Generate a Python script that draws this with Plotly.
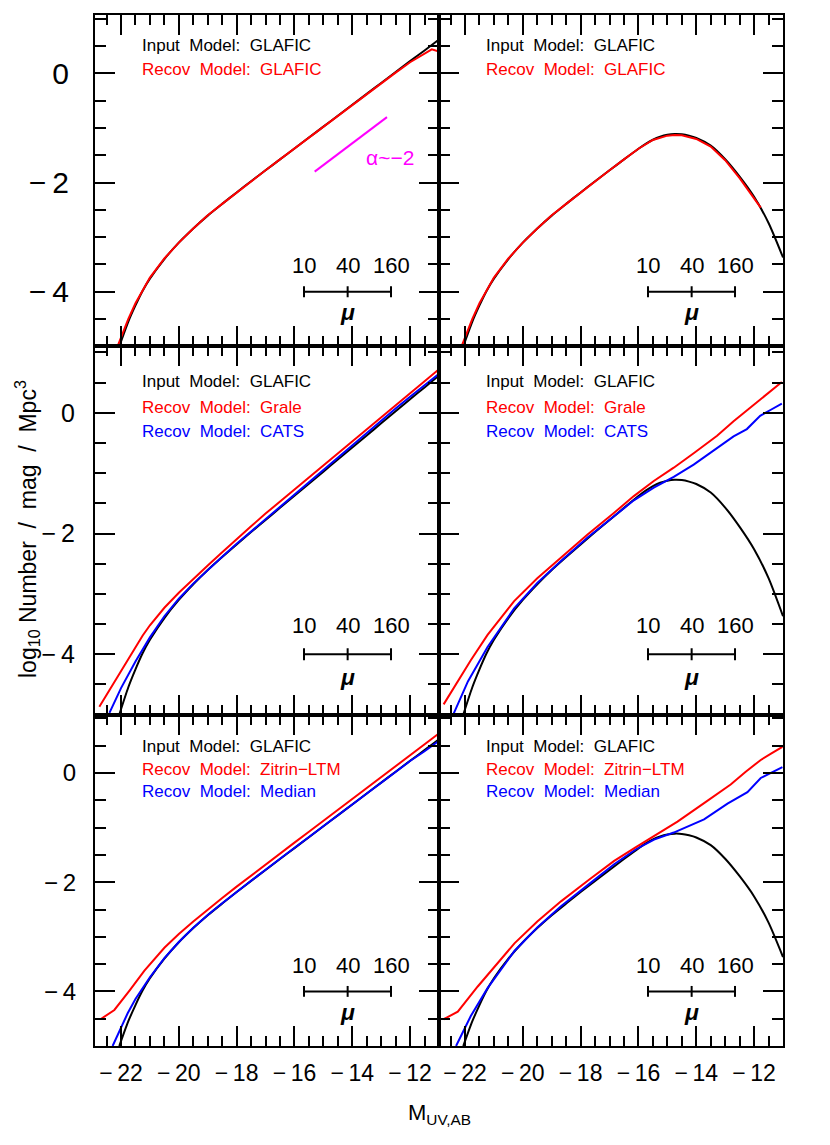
import numpy as np
import plotly.graph_objects as go

# ---------------- data ----------------
# input model (GLAFIC) without turnover (left column)
M_in_left = [-22.06, -21.75, -21.5, -21.25, -21.0, -20.5, -20.0, -19.5, -19.0, -18.5, -18.0, -17.5,
             -17.0, -16.5, -16.0, -15.5, -15.0, -14.5, -14.0, -13.5, -13.0, -12.5, -12.0, -11.5, -11.0]
phi_in_left = [-5.0, -4.55, -4.25, -3.98, -3.76, -3.40, -3.10, -2.84, -2.605, -2.39, -2.18, -1.975,
               -1.775, -1.575, -1.375, -1.175, -0.975, -0.775, -0.575, -0.375, -0.175, 0.025, 0.225,
               0.42, 0.62]

# input model with turnover (right column)
M_in_right = [-22.06, -21.75, -21.5, -21.25, -21.0, -20.5, -20.0, -19.5, -19.0, -18.5, -18.0, -17.5,
              -17.0, -16.5, -16.0, -15.75, -15.5, -15.25, -15.0, -14.75, -14.5, -14.25, -14.0, -13.5,
              -13.0, -12.5, -12.0, -11.5, -11.0]
phi_in_right = [-5.0, -4.55, -4.25, -3.98, -3.76, -3.40, -3.10, -2.84, -2.605, -2.39, -2.18, -1.975,
                -1.775, -1.575, -1.38, -1.29, -1.215, -1.16, -1.125, -1.11, -1.115, -1.14, -1.18,
                -1.32, -1.57, -1.89, -2.26, -2.74, -3.37]

# recovered GLAFIC (top row)
M_glafic_left = [-22.12, -21.75, -21.5, -21.0, -20.5, -20.0, -19.5, -19.0, -18.5, -18.0, -17.5, -17.0,
                 -16.5, -16.0, -15.5, -15.0, -14.5, -14.0, -13.5, -13.0, -12.5, -12.0, -11.5, -11.25, -11.0]
phi_glafic_left = [-5.0, -4.50, -4.21, -3.74, -3.39, -3.10, -2.84, -2.60, -2.39, -2.18, -1.975, -1.775,
                   -1.575, -1.375, -1.175, -0.98, -0.775, -0.58, -0.375, -0.18, 0.015, 0.205, 0.37,
                   0.44, 0.40]
M_glafic_right = [-22.12, -21.75, -21.5, -21.0, -20.5, -20.0, -19.5, -19.0, -18.5, -18.0, -17.5, -17.0,
                  -16.5, -16.0, -15.5, -15.0, -14.75, -14.5, -14.0, -13.5, -13.0, -12.5, -12.0, -11.77]
phi_glafic_right = [-5.0, -4.50, -4.21, -3.74, -3.39, -3.10, -2.84, -2.60, -2.39, -2.18, -1.975, -1.775,
                    -1.575, -1.38, -1.22, -1.14, -1.13, -1.135, -1.20, -1.34, -1.59, -1.92, -2.29, -2.46]

# recovered Grale / CATS (middle row)
M_grale_left = [-22.75, -22.5, -22.25, -22.0, -21.75, -21.5, -21.25, -21.0, -20.5, -20.0, -19.5, -19.0,
                -18.5, -18.0, -17.5, -17.0, -16.5, -16.0, -15.5, -15.0, -14.5, -14.0, -13.5, -13.0,
                -12.5, -12.0, -11.5, -11.0]
phi_grale_left = [-4.87, -4.67, -4.47, -4.28, -4.08, -3.88, -3.69, -3.52, -3.23, -2.98, -2.75, -2.53,
                  -2.31, -2.09, -1.88, -1.67, -1.47, -1.27, -1.07, -0.87, -0.67, -0.47, -0.27, -0.07,
                  0.13, 0.33, 0.52, 0.72]
M_cats_left = [-22.4, -22.0, -21.5, -21.0, -20.5, -20.0, -19.5, -19.0, -18.5, -18.0, -17.5, -17.0,
               -16.5, -16.0, -15.5, -15.0, -14.5, -14.0, -13.5, -13.0, -12.5, -12.0, -11.5, -11.0]
phi_cats_left = [-4.97, -4.56, -4.12, -3.72, -3.37, -3.08, -2.83, -2.60, -2.385, -2.17, -1.965, -1.76,
                 -1.56, -1.355, -1.15, -0.945, -0.74, -0.54, -0.335, -0.13, 0.07, 0.265, 0.455, 0.645]
M_grale_right = [-22.74, -22.26, -21.80, -21.22, -20.30, -19.50, -18.69, -17.77, -16.85, -16.16, -15.47,
                 -14.78, -14.09, -13.28, -12.71, -12.25, -11.79, -11.4, -11.04]
phi_grale_right = [-4.83, -4.46, -4.10, -3.68, -3.12, -2.74, -2.40, -2.02, -1.66, -1.38, -1.13,
                   -0.91, -0.67, -0.38, -0.14, 0.04, 0.22, 0.37, 0.51]
M_cats_right = [-22.4, -21.9, -21.22, -20.30, -19.5, -18.69, -17.77, -16.85, -16.16, -15.47, -14.78,
                -14.09, -13.40, -12.71, -12.25, -11.79, -11.42, -11.04]
phi_cats_right = [-4.99, -4.45, -3.88, -3.24, -2.82, -2.46, -2.07, -1.71, -1.45, -1.24, -1.06,
                  -0.86, -0.63, -0.39, -0.27, -0.05, 0.05, 0.15]

# recovered Zitrin-LTM / Median (bottom row)
M_zitrin_left = [-22.71, -22.23, -21.7, -21.19, -20.5, -20.0, -19.5, -19.0, -18.5, -18.0, -17.5, -17.0,
                 -16.5, -16.0, -15.5, -15.0, -14.5, -14.0, -13.5, -13.0, -12.5, -12.0, -11.5, -11.04]
phi_zitrin_left = [-4.51, -4.34, -3.98, -3.62, -3.20, -2.95, -2.72, -2.50, -2.29, -2.08, -1.875, -1.675,
                   -1.475, -1.275, -1.075, -0.875, -0.675, -0.47, -0.27, -0.07, 0.13, 0.33, 0.52, 0.71]
M_median_left = [-22.29, -22.0, -21.77, -21.5, -21.0, -20.5, -20.0, -19.5, -19.0, -18.5, -18.0, -17.5,
                 -17.0, -16.5, -16.0, -15.5, -15.0, -14.5, -14.0, -13.5, -13.0, -12.5, -12.0, -11.5, -11.0]
phi_median_left = [-5.0, -4.66, -4.40, -4.14, -3.74, -3.39, -3.095, -2.835, -2.60, -2.385, -2.175, -1.97,
                   -1.77, -1.57, -1.37, -1.17, -0.97, -0.77, -0.57, -0.37, -0.17, 0.025, 0.22, 0.40, 0.59]
M_zitrin_right = [-22.74, -22.25, -21.56, -20.29, -19.5, -18.68, -17.7, -16.84, -16.1, -15.46, -14.65,
                  -13.73, -12.81, -12.3, -11.77, -11.4, -11.02]
phi_zitrin_right = [-4.51, -4.37, -3.91, -3.12, -2.72, -2.35, -1.95, -1.61, -1.36, -1.15, -0.89,
                    -0.55, -0.21, 0.02, 0.24, 0.36, 0.48]
M_median_right = [-22.31, -21.8, -21.22, -20.29, -19.5, -18.68, -17.7, -16.84, -16.1, -15.46, -14.78,
                  -13.73, -12.92, -12.23, -11.77, -11.42, -11.02]
phi_median_right = [-5.0, -4.45, -3.94, -3.26, -2.83, -2.44, -2.03, -1.67, -1.40, -1.22, -1.09,
                    -0.85, -0.56, -0.35, -0.09, 0.0, 0.11]

# magnification scale bar
mu_labels = ["10", "40", "160"]
mu_bar_M = [-15.67, -14.16, -12.66]
mu_bar_y = -4.0
mu_label_y = -3.52
mu_sym_y = -4.37

# faint-end slope guide
alpha_M = [-15.3, -12.8]
alpha_phi = [-1.8, -0.8]
alpha_label = "α~−2"
alpha_label_pos = (-12.70, -1.54)

# panel legends
SP = "\u00a0 "
panel_texts = [
    [("Input" + SP + "Model:" + SP + "GLAFIC", "black"), ("Recov" + SP + "Model:" + SP + "GLAFIC", "red")],
    [("Input" + SP + "Model:" + SP + "GLAFIC", "black"), ("Recov" + SP + "Model:" + SP + "GLAFIC", "red")],
    [("Input" + SP + "Model:" + SP + "GLAFIC", "black"), ("Recov" + SP + "Model:" + SP + "Grale", "red"),
     ("Recov" + SP + "Model:" + SP + "CATS", "blue")],
    [("Input" + SP + "Model:" + SP + "GLAFIC", "black"), ("Recov" + SP + "Model:" + SP + "Grale", "red"),
     ("Recov" + SP + "Model:" + SP + "CATS", "blue")],
    [("Input" + SP + "Model:" + SP + "GLAFIC", "black"), ("Recov" + SP + "Model:" + SP + "Zitrin−LTM", "red"),
     ("Recov" + SP + "Model:" + SP + "Median", "blue")],
    [("Input" + SP + "Model:" + SP + "GLAFIC", "black"), ("Recov" + SP + "Model:" + SP + "Zitrin−LTM", "red"),
     ("Recov" + SP + "Model:" + SP + "Median", "blue")],
]

x_tick_vals = [-22, -20, -18, -16, -14, -12]
x_tick_text = ["−\u200922", "−\u200920", "−\u200918", "−\u200916", "−\u200914", "−\u200912"]
y_tick_vals = [-4, -2, 0]
y_tick_text = ["−\u20094", "−\u20092", "0"]

# ---------------- layout geometry ----------------
W, H = 830, 1145
ML, MR, MT, MB = 87, 55, 5, 107
plot_h = H - MT - MB
row_px = [(5, 337), (337, 706), (706, H - MB)]
row_dom = [[(H - MB - b) / plot_h, (H - MB - t) / plot_h] for t, b in row_px]
col_dom = [[0.0, 0.5], [0.5, 1.0]]
y_ranges = [[-5.0, 1.07], [-5.0, 1.10], [-5.0, 1.07]]
x_range = [-22.9, -11.0]
ylab_size = [30, 25, 24]
ylab_standoff = [18, 13, 12]
text_y = [[0.9075, 0.8364], [0.9033, 0.834, 0.769], [0.905, 0.833, 0.768]]

FONT = "Liberation Sans, Arial, Helvetica, sans-serif"

curves = [
    [(M_in_left, phi_in_left, "black", True), (M_glafic_left, phi_glafic_left, "red", False)],
    [(M_in_right, phi_in_right, "black", True), (M_glafic_right, phi_glafic_right, "red", False)],
    [(M_in_left, phi_in_left, "black", True), (M_cats_left, phi_cats_left, "blue", False),
     (M_grale_left, phi_grale_left, "red", False)],
    [(M_in_right, phi_in_right, "black", True), (M_cats_right, phi_cats_right, "blue", False),
     (M_grale_right, phi_grale_right, "red", False)],
    [(M_in_left, phi_in_left, "black", True), (M_median_left, phi_median_left, "blue", False),
     (M_zitrin_left, phi_zitrin_left, "red", False)],
    [(M_in_right, phi_in_right, "black", True), (M_median_right, phi_median_right, "blue", False),
     (M_zitrin_right, phi_zitrin_right, "red", False)],
]

fig = go.Figure()
annotations = []
shapes = []

x_minor = list(np.arange(-23.0, -10.9, 0.5))
y_minor = list(np.arange(-5.0, 1.11, 0.5))

for p in range(6):
    r, c = divmod(p, 2)
    sid = "" if p == 0 else str(p + 1)
    xa, ya = "x" + sid, "y" + sid

    for xs, ys, col, smooth in curves[p]:
        fig.add_trace(go.Scatter(
            x=xs, y=ys, mode="lines", xaxis=xa, yaxis=ya,
            line=dict(color=col, width=2, shape="spline" if smooth else "linear",
                      smoothing=0.7 if smooth else None),
            hoverinfo="skip", showlegend=False))

    # scale bar
    fig.add_trace(go.Scatter(
        x=[mu_bar_M[0], mu_bar_M[-1]], y=[mu_bar_y, mu_bar_y], mode="lines",
        xaxis=xa, yaxis=ya, line=dict(color="black", width=2),
        hoverinfo="skip", showlegend=False))
    for mx in mu_bar_M:
        shapes.append(dict(type="line", xref=xa, yref=ya, x0=mx, x1=mx,
                           y0=mu_bar_y - 0.1, y1=mu_bar_y + 0.1,
                           line=dict(color="black", width=2)))
    for mx, lab in zip(mu_bar_M, mu_labels):
        annotations.append(dict(x=mx, y=mu_label_y, xref=xa, yref=ya, text=lab, showarrow=False,
                                font=dict(family=FONT, size=22, color="black"),
                                xanchor="center", yanchor="middle"))
    annotations.append(dict(x=mu_bar_M[1], y=mu_sym_y, xref=xa, yref=ya, text="<b><i>μ</i></b>",
                            showarrow=False, font=dict(family=FONT, size=23, color="black"),
                            xanchor="center", yanchor="middle"))

    # panel legend text
    for (txt, colr), ty in zip(panel_texts[p], text_y[r]):
        annotations.append(dict(x=0.132, y=ty, xref=xa + " domain", yref=ya + " domain",
                                text=txt, showarrow=False, xanchor="left", yanchor="middle",
                                font=dict(family=FONT, size=17, color=colr)))

    xaxis = dict(domain=col_dom[c], anchor=ya, range=x_range, showgrid=False, zeroline=False,
                 showline=True, linecolor="black", linewidth=2, mirror="ticks",
                 ticks="inside", ticklen=20, tickwidth=2, tickcolor="black",
                 tickmode="array", tickvals=x_tick_vals, ticktext=x_tick_text,
                 showticklabels=(r == 2), ticklabelstandoff=5,
                 tickfont=dict(family=FONT, size=23, color="black"),
                 minor=dict(tickmode="array", tickvals=x_minor, ticks="inside", ticklen=10,
                            tickwidth=2, tickcolor="black", showgrid=False))
    yaxis = dict(domain=row_dom[r], anchor=xa, range=y_ranges[r], showgrid=False, zeroline=False,
                 showline=True, linecolor="black", linewidth=2, mirror="ticks",
                 ticks="inside", ticklen=20, tickwidth=2, tickcolor="black",
                 tickmode="array", tickvals=y_tick_vals, ticktext=y_tick_text,
                 showticklabels=(c == 0), ticklabelstandoff=ylab_standoff[r],
                 tickfont=dict(family=FONT, size=ylab_size[r], color="black"),
                 minor=dict(tickmode="array", tickvals=y_minor, ticks="inside", ticklen=11,
                            tickwidth=2, tickcolor="black", showgrid=False))
    fig.layout["xaxis" + sid] = xaxis
    fig.layout["yaxis" + sid] = yaxis

# slope guide in the top-left panel
fig.add_trace(go.Scatter(x=alpha_M, y=alpha_phi, mode="lines", xaxis="x", yaxis="y",
                         line=dict(color="#ff00ff", width=2), hoverinfo="skip", showlegend=False))
annotations.append(dict(x=alpha_label_pos[0], y=alpha_label_pos[1], xref="x", yref="y",
                        text=alpha_label, showarrow=False, xanchor="center", yanchor="middle",
                        font=dict(family=FONT, size=21, color="#ff00ff")))

# axis titles
annotations.append(dict(x=(19 - ML) / (W - ML - MR), y=(H - MB - 520) / plot_h,
                        xref="paper", yref="paper", showarrow=False, textangle=-90,
                        text="log<sub>10</sub> Number\u00a0 /\u00a0 mag\u00a0 /\u00a0 Mpc<sup>3</sup>",
                        xanchor="center", yanchor="middle",
                        font=dict(family=FONT, size=23, color="black")))
annotations.append(dict(x=0.5, y=(H - MB - 1106) / plot_h, xref="paper", yref="paper",
                        showarrow=False, text="M<sub>UV,AB</sub>", xanchor="center",
                        yanchor="middle", font=dict(family=FONT, size=22, color="black")))

fig.update_layout(width=W, height=H, margin=dict(l=ML, r=MR, t=MT, b=MB, pad=0),
                  paper_bgcolor="white", plot_bgcolor="white",
                  annotations=annotations, shapes=shapes, showlegend=False)

fig.write_html("out.html")
